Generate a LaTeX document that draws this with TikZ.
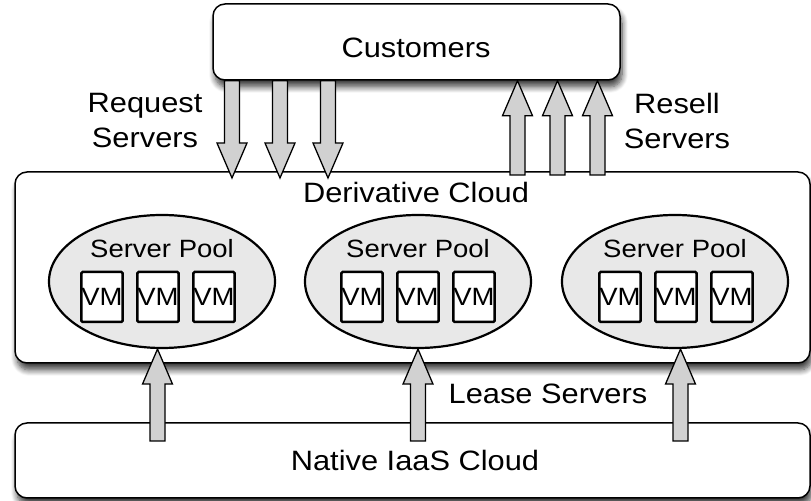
\documentclass[tikz,border=0pt]{standalone}
\usepackage{fontspec}
\setmainfont{Liberation Sans}[FakeStretch=1.1]
\usetikzlibrary{shapes.geometric,shadows.blur,calc}

\tikzset{
  cloudbox/.style={draw, rounded corners=6pt, fill=white, line width=0.75pt,
    blur shadow={shadow xshift=1pt, shadow yshift=-3.5pt, shadow blur radius=3pt,
      shadow blur steps=8, shadow opacity=75}},
  pool/.style={ellipse, draw, line width=1.1pt, fill=black!9,
    minimum width=113pt, minimum height=66.5pt},
  vmbox/.style={draw, line width=1.25pt, fill=white, minimum width=20.5pt,
    minimum height=25pt, inner sep=0pt, rounded corners=0.6pt},
  fatarrow/.style={draw, fill=black!18, line width=0.65pt, line join=miter},
  biglbl/.style={font=\fontsize{14}{17.5}\selectfont, align=center, inner sep=0pt},
  small/.style={font=\fontsize{12.5}{15}\selectfont, inner sep=0pt}
}

% fat vertical arrow: #1 tail, #2 tip
\newcommand{\fatarrow}[2]{%
  \draw[fatarrow] let \p1=(#1), \p2=($(#2)!17.5pt!(#1)$), \p3=(#2) in
    (\x1-3.75pt,\y1) -- (\x1-3.75pt,\y2) -- (\x1-7.5pt,\y2) -- (\x3,\y3)
    -- (\x1+7.5pt,\y2) -- (\x1+3.75pt,\y2) -- (\x1+3.75pt,\y1) -- cycle;}

\begin{document}
\begin{tikzpicture}[x=0.5pt,y=-0.5pt]
  \useasboundingbox (0,0) rectangle (811,501);

  % boxes
  \node[cloudbox, minimum width=397.5pt, minimum height=37.5pt] (native) at (412.5,460.5) {};
  \node[cloudbox, minimum width=397.5pt, minimum height=95.5pt] (deriv) at (412.5,267.5) {};
  \node[cloudbox, minimum width=203.5pt, minimum height=38pt] (cust) at (416.5,42) {};

  \node[biglbl] (custlbl) at (416,48) {Customers};
  \node[biglbl] (derivlbl) at (416,192) {Derivative Cloud};
  \node[biglbl] (nativelbl) at (415,461) {Native IaaS Cloud};
  \node[biglbl] (reqlbl) at (145,121) {Request\\Servers};
  \node[biglbl] (resllbl) at (677,121) {Resell\\Servers};
  \node[biglbl] (leaselbl) at (548,394) {Lease Servers};

  % server pools
  \foreach \i/\px/\vx in {1/162/158, 2/418/418, 3/675/676} {
    \node[pool] (pool\i) at (\px,281.5) {};
    \node[small] (pl\i) at (\px,249) {Server Pool};
    \foreach \j/\dx in {1/-56, 2/0, 3/56}
      \node[vmbox, small] (vm\i\j) at (\vx+\dx,297) {VM};
  }

  % request / resell
  \foreach \i/\ax in {1/232, 2/280, 3/328} {
    \coordinate (rq\i) at (\ax,178);
    \fatarrow{cust.south -| rq\i}{rq\i}
  }
  \foreach \i/\ax in {1/517.5, 2/557.5, 3/597.5} {
    \coordinate (rs\i) at (\ax,175);
    \fatarrow{rs\i}{cust.south -| rs\i}
  }

  % lease
  \foreach \i/\ax in {1/157.5, 2/418, 3/680.5} {
    \coordinate (ls\i) at (\ax,441);
    \fatarrow{ls\i}{ls\i |- pool\i.south}
  }
\end{tikzpicture}
\end{document}
